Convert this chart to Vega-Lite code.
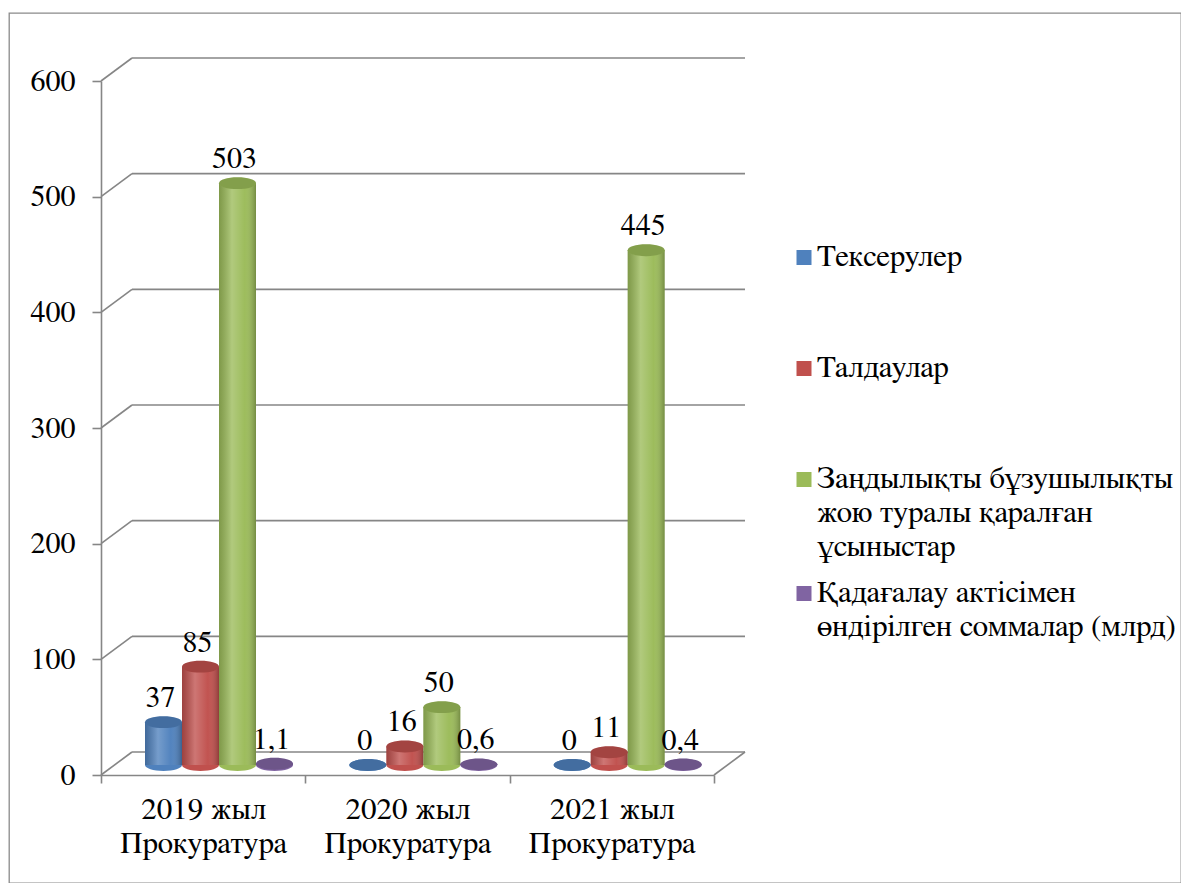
{
  "$schema": "https://vega.github.io/schema/vega-lite/v6.json",
  "width": 1172,
  "height": 870,
  "autosize": {"type": "none"},
  "padding": {"left": 9, "top": 13, "right": 0, "bottom": 0},
  "config": {
    "font": "FreeSerif",
    "view": {"stroke": "#8a8a8a", "strokeWidth": 1.3},
    "locale": {"number": {"decimal": ",", "thousands": " ", "grouping": [3], "currency": ["", ""]}},
    "style": {"guide-label": {"lineHeight": 34}},
    "axis": {
      "labelFont": "FreeSerif",
      "labelFontSize": 30,
      "labelColor": "#000000",
      "domainColor": "#868686",
      "tickColor": "#868686",
      "domainWidth": 1.6,
      "tickWidth": 1.6,
      "grid": false,
      "title": null
    }
  },
  "datasets": {
    "bars": [
      {"year": "2019 жыл Прокуратура", "series": "Тексерулер", "value": 37},
      {"year": "2019 жыл Прокуратура", "series": "Талдаулар", "value": 85},
      {"year": "2019 жыл Прокуратура", "series": "Заңдылықты бұзушылықты жою туралы қаралған ұсыныстар", "value": 503},
      {"year": "2019 жыл Прокуратура", "series": "Қадағалау актісімен өндірілген соммалар (млрд)", "value": 1.1},
      {"year": "2020 жыл Прокуратура", "series": "Тексерулер", "value": 0},
      {"year": "2020 жыл Прокуратура", "series": "Талдаулар", "value": 16},
      {"year": "2020 жыл Прокуратура", "series": "Заңдылықты бұзушылықты жою туралы қаралған ұсыныстар", "value": 50},
      {"year": "2020 жыл Прокуратура", "series": "Қадағалау актісімен өндірілген соммалар (млрд)", "value": 0.6},
      {"year": "2021 жыл Прокуратура", "series": "Тексерулер", "value": 0},
      {"year": "2021 жыл Прокуратура", "series": "Талдаулар", "value": 11},
      {"year": "2021 жыл Прокуратура", "series": "Заңдылықты бұзушылықты жою туралы қаралған ұсыныстар", "value": 445},
      {"year": "2021 жыл Прокуратура", "series": "Қадағалау актісімен өндірілген соммалар (млрд)", "value": 0.4}
    ],
    "grid": [{"v": 0}, {"v": 100}, {"v": 200}, {"v": 300}, {"v": 400}, {"v": 500}, {"v": 600}]
  },
  "layer": [
    {
      "data": {"name": "grid"},
      "mark": {"type": "rule", "color": "#868686", "strokeWidth": 1.6, "xOffset": 31, "x2Offset": 31, "yOffset": -23, "y2Offset": -23},
      "encoding": {
        "x": {"datum": 0, "type": "quantitative", "scale": {"domain": [0, 1], "range": [92, 705]}, "axis": null},
        "x2": {"datum": 1},
        "y": {
          "field": "v", "type": "quantitative",
          "scale": {"domain": [0, 600], "range": [762, 68]},
          "axis": {"offset": -92, "values": [0, 100, 200, 300, 400, 500, 600], "tickSize": 9, "labelPadding": 17, "domain": true}
        },
        "y2": {"field": "v"}
      }
    },
    {
      "data": {"name": "grid"},
      "mark": {"type": "rule", "color": "#868686", "strokeWidth": 1.6, "x2Offset": 31, "y2Offset": -23},
      "encoding": {
        "x": {"datum": 0, "type": "quantitative", "scale": {"domain": [0, 1], "range": [92, 705]}, "axis": null},
        "x2": {"datum": 0},
        "y": {"field": "v", "type": "quantitative", "scale": {"domain": [0, 600], "range": [762, 68]}, "axis": null},
        "y2": {"field": "v"}
      }
    },
    {
      "data": {"values": [{"v": 0}]},
      "mark": {"type": "rule", "color": "#868686", "strokeWidth": 1.6, "x2Offset": 31, "y2Offset": -23},
      "encoding": {
        "x": {"datum": 1, "type": "quantitative", "scale": {"domain": [0, 1], "range": [92, 705]}, "axis": null},
        "x2": {"datum": 1},
        "y": {"field": "v", "type": "quantitative", "scale": {"domain": [0, 600], "range": [762, 68]}, "axis": null},
        "y2": {"field": "v"}
      }
    },
    {
      "data": {"name": "bars"},
      "encoding": {
        "x": {
          "field": "year", "type": "nominal", "sort": null,
          "scale": {"range": [92, 705], "paddingInner": 0, "paddingOuter": 0},
          "axis": {
            "offset": -108, "tickBand": "extent", "tickSize": 8, "labelPadding": 11, "labelAngle": 0,
            "labelFontSize": 31, "labelLineHeight": 34, "labelBaseline": "top",
            "labelExpr": "[slice(datum.label, 0, 8), slice(datum.label, 9)]"
          }
        },
        "xOffset": {
          "field": "series", "type": "nominal", "sort": null,
          "scale": {"range": [44, 192], "paddingInner": 0, "paddingOuter": 0}
        },
        "y": {"field": "value", "type": "quantitative", "scale": {"domain": [0, 600], "range": [762, 68]}, "axis": null}
      },
      "layer": [
        {
          "mark": {"type": "point", "shape": "M-1,0A1,0.32,0,1,0,1,0A1,0.32,0,1,0,-1,0Z", "size": 1369, "filled": true, "opacity": 1, "yOffset": -10},
          "encoding": {
            "y": {"datum": 0, "type": "quantitative", "scale": {"domain": [0, 600], "range": [762, 68]}, "axis": null},
            "color": {"field": "series", "type": "nominal", "legend": null}
          }
        },
        {
          "mark": {"type": "bar", "yOffset": -10, "y2Offset": -10},
          "encoding": {
            "color": {
              "field": "series", "type": "nominal",
              "scale": {
                "domain": ["Тексерулер", "Талдаулар", "Заңдылықты бұзушылықты жою туралы қаралған ұсыныстар", "Қадағалау актісімен өндірілген соммалар (млрд)"],
                "range": ["#4F81BD", "#C0504D", "#9BBB59", "#8064A2"]
              },
              "legend": {
                "orient": "none", "legendX": 777, "legendY": 213, "title": null, "padding": 0,
                "symbolType": "M0,-1M0,9.5M-0.5,0.85H1V2.35H-0.5Z", "symbolSize": 400, "symbolStrokeWidth": 0, "symbolOpacity": 1,
                "labelBaseline": "top", "labelOffset": 0, "rowPadding": -3,
                "labelFont": "FreeSerif", "labelFontSize": 31, "labelColor": "#000000", "labelLimit": 420,
                "labelExpr": "datum.label == 'Заңдылықты бұзушылықты жою туралы қаралған ұсыныстар' ? ['Заңдылықты бұзушылықты', 'жою туралы қаралған', 'ұсыныстар'] : datum.label == 'Қадағалау актісімен өндірілген соммалар (млрд)' ? ['Қадағалау актісімен', 'өндірілген соммалар (млрд)'] : datum.label"
              }
            }
          }
        },
        {
          "mark": {
            "type": "bar", "yOffset": -10, "y2Offset": -10,
            "color": {
              "gradient": "linear", "x1": 0, "x2": 1, "y1": 0, "y2": 0,
              "stops": [
                {"offset": 0, "color": "rgba(0,0,0,0.18)"},
                {"offset": 0.35, "color": "rgba(255,255,255,0.22)"},
                {"offset": 0.7, "color": "rgba(255,255,255,0.02)"},
                {"offset": 1, "color": "rgba(0,0,0,0.25)"}
              ]
            }
          }
        },
        {
          "mark": {"type": "point", "shape": "M-1,0A1,0.32,0,1,0,1,0A1,0.32,0,1,0,-1,0Z", "size": 1369, "filled": true, "opacity": 1, "yOffset": -10},
          "encoding": {"color": {"field": "series", "type": "nominal", "legend": null}}
        },
        {
          "mark": {"type": "point", "shape": "M-1,0A1,0.32,0,1,0,1,0A1,0.32,0,1,0,-1,0Z", "size": 1369, "filled": true, "color": "#000000", "opacity": 0.15, "yOffset": -10}
        },
        {
          "mark": {"type": "text", "fontSize": 30, "font": "FreeSerif", "color": "#000000", "baseline": "middle", "dy": -34, "dx": -3},
          "encoding": {"text": {"field": "value", "type": "quantitative", "format": ".1~f"}}
        }
      ],
      "resolve": {"legend": {"color": "independent"}}
    }
  ],
  "resolve": {"scale": {"x": "independent"}, "axis": {"y": "independent"}}
}
